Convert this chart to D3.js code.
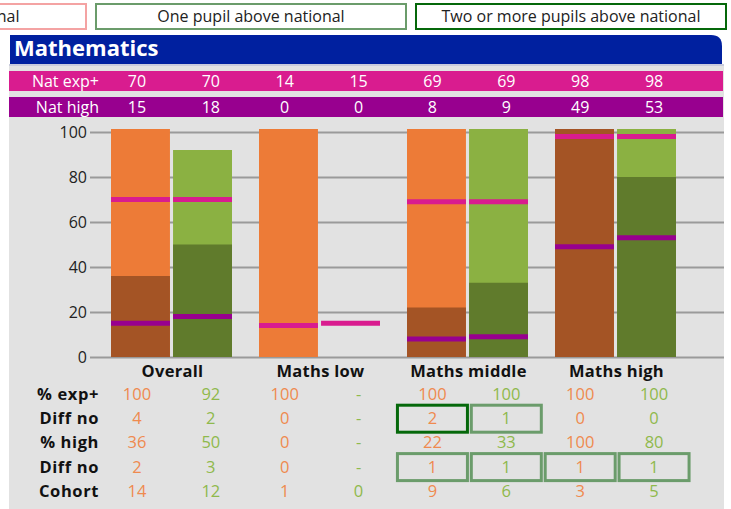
<!DOCTYPE html>
<html lang="en">
<head>
<meta charset="utf-8">
<title>Mathematics</title>
<script src="https://cdn.jsdelivr.net/npm/d3@7"></script>
<style>
  body { margin: 0; background: #fff; }
  svg text { font-family: "Open Sans", sans-serif; }
  .axis text { font-size: 16px; fill: #222; }
  .axis line { stroke: #9a9a9a; stroke-width: 2px; }
  .lbl { font-size: 16.5px; font-weight: bold; fill: #111; }
</style>
</head>
<body>
<svg width="731" height="509"></svg>
<script>
// legend
var legendNames = ["One pupil below national", "One pupil above national", "Two or more pupils above national"];
var legendColors = ["#f4a3a3", "#6b9c6b", "#05680a"];

// chart data: two bars per group
var groups = ["Overall", "Maths low", "Maths middle", "Maths high"];
var expPlus = [100, 92, 100, null, 100, 100, 100, 100];
var highPct = [36, 50, 0, null, 22, 33, 100, 80];
var natExp = [70, 70, 14, 15, 69, 69, 98, 98];
var natHigh = [15, 18, 0, 0, 8, 9, 49, 53];

// table below
var rowLabels = ["% exp+", "Diff no", "% high", "Diff no", "Cohort"];
var expText = ["100", "92", "100", "-", "100", "100", "100", "100"];
var diffExp = ["4", "2", "0", "-", "2", "1", "0", "0"];
var highText = ["36", "50", "0", "-", "22", "33", "100", "80"];
var diffHigh = ["2", "3", "0", "-", "1", "1", "1", "1"];
var cohort = ["14", "12", "1", "0", "9", "6", "3", "5"];
// 0 none, 1 one pupil above, 2 two or more above
var diffExpFlag = [0, 0, 0, 0, 2, 1, 0, 0];
var diffHighFlag = [0, 0, 0, 0, 1, 1, 1, 1];

var yTicks = [0, 20, 40, 60, 80, 100];

var lightCol = ["#ed7b37", "#8bb142"];
var darkCol = ["#a45425", "#607b2c"];
var textCol = ["#ef8a4f", "#8fb94c"];

var svg = d3.select("svg");

// legend boxes (first one runs off the left edge)
legendNames.forEach(function(name, i) {
  var x0 = -224 + i * 320;
  svg.append("rect")
    .attr("x", x0).attr("y", 4)
    .attr("width", 310).attr("height", 25)
    .attr("fill", "#fff")
    .attr("stroke", legendColors[i]).attr("stroke-width", 2);
  svg.append("text")
    .attr("x", x0 + 155 - (i === 0 ? 5 : 0)).attr("y", 21.5)
    .attr("text-anchor", "middle")
    .attr("font-size", 16).attr("fill", "#222")
    .text(name);
});

// grey panel
svg.append("rect").attr("x", 9).attr("y", 64).attr("width", 715).attr("height", 445).attr("fill", "#e2e2e2");
svg.append("rect").attr("x", 9).attr("y", 64).attr("width", 715).attr("height", 2).attr("fill", "#c9cbdc");

// title bar with rounded top right corner
svg.append("path")
  .attr("d", "M10,35 H711 Q722,35 722,46 V64 H10 Z")
  .attr("fill", "#00209f");
svg.append("text")
  .attr("x", 14).attr("y", 56)
  .attr("font-size", 22).attr("font-weight", "bold").attr("fill", "#fff")
  .text("Mathematics");

// columns for the text rows
var col = d3.scaleBand().domain(d3.range(8)).range([100, 691]);
function cx(i) { return col(i) + col.bandwidth() / 2; }

// national rows
var natRows = [
  {label: "Nat exp+", vals: natExp, y: 71, fill: "#d91c8f"},
  {label: "Nat high", vals: natHigh, y: 97, fill: "#98008f"}
];
natRows.forEach(function(r) {
  svg.append("rect").attr("x", 9).attr("y", r.y).attr("width", 714).attr("height", 20).attr("fill", r.fill);
  svg.append("text").attr("x", 99).attr("y", r.y + 16)
    .attr("text-anchor", "end").attr("font-size", 16).attr("fill", "#fff").text(r.label);
  svg.append("g").selectAll("text").data(r.vals).join("text")
    .attr("x", function(d, i) { return cx(i); })
    .attr("y", r.y + 16)
    .attr("text-anchor", "middle").attr("font-size", 16).attr("fill", "#fff")
    .text(function(d) { return d; });
});

// chart
var y = d3.scaleLinear().domain([0, 100]).range([357, 132]);
var gx = d3.scaleBand().domain(groups).range([97.5, 689.5]);
var inner = d3.scaleBand().domain([0, 1]).range([13.5, 134.5]).paddingInner(0.05);

svg.append("g")
  .attr("class", "axis")
  .attr("transform", "translate(90,0)")
  .call(d3.axisLeft(y).tickValues(yTicks).tickSize(-634).tickPadding(3))
  .call(function(g) { g.select(".domain").remove(); });

var bars = [];
for (var i = 0; i < 8; i++) {
  bars.push({i: i, g: groups[Math.floor(i / 2)], s: i % 2,
    exp: expPlus[i], high: highPct[i], ne: natExp[i], nh: natHigh[i]});
}
function bx(d) { return gx(d.g) + inner(d.s); }
var bw = inner.bandwidth();
// full bars poke a little above the 100 line
function barTop(v) { return v >= 100 ? y(v) - 3 : y(v); }

var bg = svg.append("g");
bg.selectAll(".light").data(bars.filter(function(d) { return d.exp != null; })).join("rect")
  .attr("x", bx).attr("width", bw)
  .attr("y", function(d) { return barTop(d.exp); })
  .attr("height", function(d) { return y(0) - barTop(d.exp); })
  .attr("fill", function(d) { return lightCol[d.s]; });
bg.selectAll(".dark").data(bars.filter(function(d) { return d.high > 0; })).join("rect")
  .attr("x", bx).attr("width", bw)
  .attr("y", function(d) { return barTop(d.high); })
  .attr("height", function(d) { return y(0) - barTop(d.high); })
  .attr("fill", function(d) { return darkCol[d.s]; });

// national markers
bg.selectAll(".ne").data(bars.filter(function(d) { return d.ne > 0; })).join("rect")
  .attr("x", bx).attr("width", bw)
  .attr("y", function(d) { return y(d.ne) - 2.5; }).attr("height", 5)
  .attr("fill", "#d91c8f");
bg.selectAll(".nh").data(bars.filter(function(d) { return d.nh > 0; })).join("rect")
  .attr("x", bx).attr("width", bw)
  .attr("y", function(d) { return y(d.nh) - 2.5; }).attr("height", 5)
  .attr("fill", "#98008f");

// group labels
svg.append("g").selectAll("text").data(groups).join("text")
  .attr("class", "lbl")
  .attr("x", function(d) { return gx(d) + gx.bandwidth() / 2 + 1; })
  .attr("y", 377)
  .attr("text-anchor", "middle")
  .attr("letter-spacing", 0.3)
  .text(function(d) { return d; });

// table
var rows = [expText, diffExp, highText, diffHigh, cohort];
rows.forEach(function(vals, r) {
  var ty = 400 + r * 24.2;
  svg.append("text").attr("class", "lbl").attr("x", 99).attr("y", ty)
    .attr("text-anchor", "end").attr("letter-spacing", 0.6).text(rowLabels[r]);
  svg.append("g").selectAll("text").data(vals).join("text")
    .attr("x", function(d, i) { return cx(i); })
    .attr("y", ty)
    .attr("text-anchor", "middle").attr("font-size", 16.5)
    .attr("fill", function(d, i) { return textCol[i % 2]; })
    .text(function(d) { return d; });
});

// highlight boxes around diff numbers
[[1, diffExpFlag], [3, diffHighFlag]].forEach(function(p) {
  var ty = 400 + p[0] * 24.2;
  p[1].forEach(function(f, i) {
    if (f === 0) return;
    svg.append("rect")
      .attr("x", cx(i) - 35).attr("y", ty - 19)
      .attr("width", 70).attr("height", 27)
      .attr("fill", "none")
      .attr("stroke", legendColors[f]).attr("stroke-width", 3);
  });
});
</script>
</body>
</html>
